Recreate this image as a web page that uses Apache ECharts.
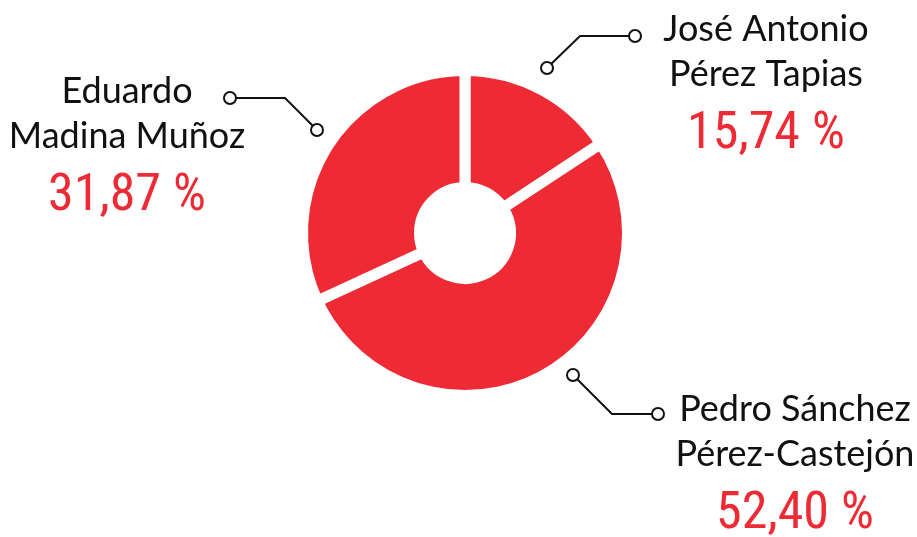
<!DOCTYPE html>
<html>
<head>
<meta charset="utf-8">
<script src="https://cdn.jsdelivr.net/npm/echarts@6/dist/echarts.min.js"></script>
<style>
  html, body { margin: 0; padding: 0; background: #fff; }
  #chart { width: 917px; height: 537px; }
</style>
</head>
<body>
<div id="chart"></div>
<script>
// candidatos y porcentajes (en orden de las agujas del reloj desde arriba)
const names = ['José Antonio\nPérez Tapias', 'Pedro Sánchez\nPérez-Castejón', 'Eduardo\nMadina Muñoz'];
const values = [15.74, 52.40, 31.87];

const RED = '#ee2a35';

// posicion de cada etiqueta (centro x, borde superior y)
const labelPos = [
  { x: 766, y: 7 },
  { x: 795, y: 387 },
  { x: 127, y: 69 }
];

// lineas guía con circulos en los extremos
const leaders = [
  [[547, 68], [580, 36], [635, 36]],
  [[573, 375], [612, 414], [658, 414]],
  [[230, 98], [285, 98], [317, 130]]
];

const fmt = v => v.toFixed(2).replace('.', ',') + ' %';

const graphics = [];
leaders.forEach(pts => {
  graphics.push({
    type: 'polyline', z: 10,
    shape: { points: pts },
    style: { stroke: '#111', lineWidth: 2, fill: null }
  });
  [pts[0], pts[pts.length - 1]].forEach(p => {
    graphics.push({
      type: 'circle', z: 11,
      shape: { cx: p[0], cy: p[1], r: 6 },
      style: { stroke: '#111', lineWidth: 2, fill: '#fff' }
    });
  });
});

const chart = echarts.init(document.getElementById('chart'));
chart.setOption({
  animation: false,
  graphic: graphics,
  series: [{
    type: 'pie',
    center: [465, 233],
    radius: [45.5, 162.5],
    startAngle: 90,
    clockwise: true,
    silent: true,
    data: names.map((n, i) => ({ name: n, value: values[i] })),
    itemStyle: { color: RED, borderColor: '#fff', borderWidth: 11 },
    label: {
      show: true,
      formatter: p => p.name.split('\n').map(s => '{n|' + s + '}').join('\n') + '\n{p|' + fmt(p.value) + '}',
      rich: {
        n: { fontFamily: 'Lato', fontSize: 36, lineHeight: 45, color: '#111', align: 'center' },
        p: { fontFamily: 'Roboto Condensed', fontSize: 52, lineHeight: 76, color: RED, align: 'center' }
      }
    },
    labelLine: { show: false },
    labelLayout: params => ({
      x: labelPos[params.dataIndex].x,
      y: labelPos[params.dataIndex].y,
      align: 'center',
      verticalAlign: 'top'
    })
  }]
});
</script>
</body>
</html>
